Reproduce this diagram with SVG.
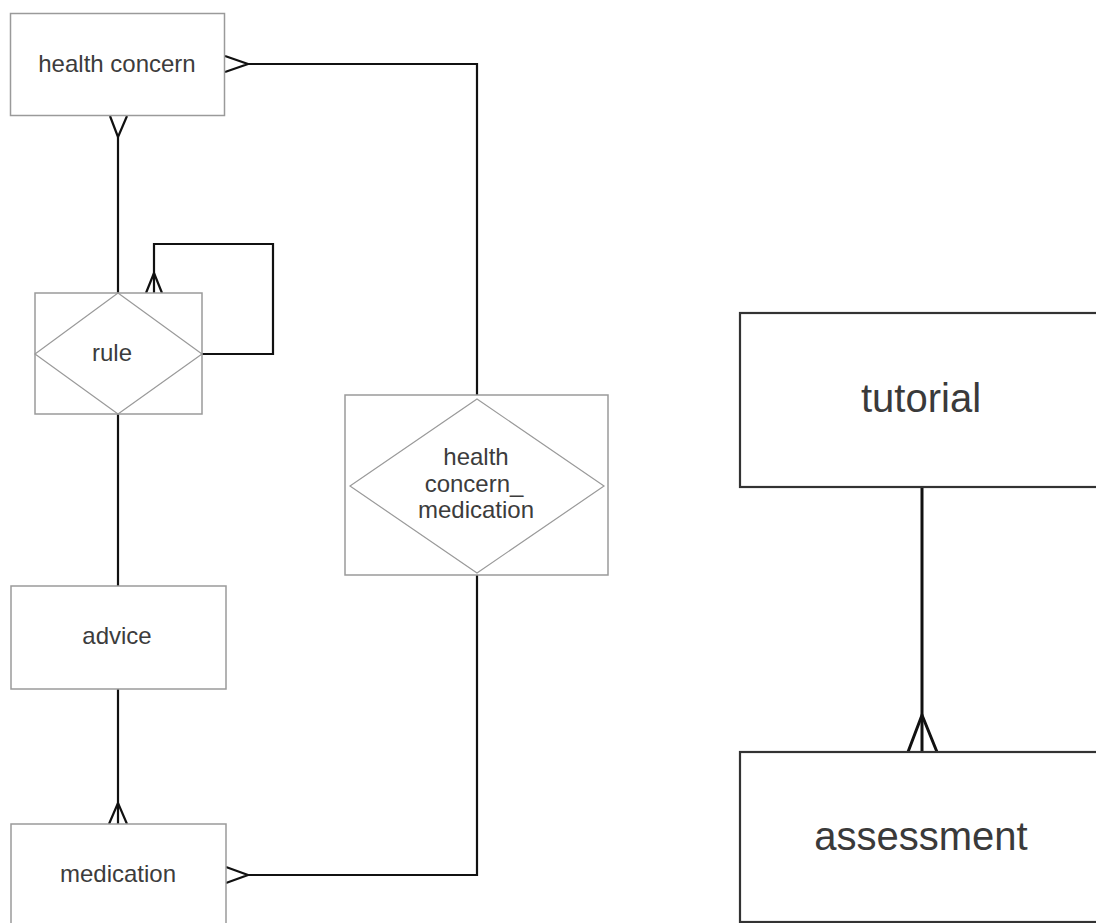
<svg xmlns="http://www.w3.org/2000/svg" width="1096" height="923" viewBox="0 0 1096 923">
<style>
.box{fill:#fff;stroke:#9a9a9a;stroke-width:1.5}
.dia{fill:none;stroke:#9a9a9a;stroke-width:1.2}
.bigbox{fill:#fff;stroke:#333;stroke-width:2.2}
.con{fill:none;stroke:#111;stroke-width:2.2;stroke-linejoin:miter}
.con2{fill:none;stroke:#111;stroke-width:3}
.t{font-family:"Liberation Sans",Arial,sans-serif;font-size:24px;fill:#3c3c3c;text-anchor:middle}
.tb{font-family:"Liberation Sans",Arial,sans-serif;font-size:40px;fill:#3a3a3a;text-anchor:middle}
</style>
<rect width="1096" height="923" fill="#fff"/>
<g id="connectors">
<path class="con" d="M248,64 H477 V395"/>
<path class="con" d="M225,56 L248,64 L225,72"/>
<path class="con" d="M118,137 V293"/>
<path class="con" d="M110,116 L118,137 L127,116"/>
<path class="con" d="M202,354 H273 V244 H154 V293"/>
<path class="con" d="M146,293 L154,273 L162,293"/>
<path class="con" d="M118,414 V586"/>
<path class="con" d="M118,689 V824"/>
<path class="con" d="M109,824 L118,803 L127,824"/>
<path class="con" d="M248,875 H477 V575"/>
<path class="con" d="M226,867 L248,875 L226,883"/>
<path class="con2" d="M922,487 V752"/>
<path class="con2" d="M908,752 L922,715 L937,752"/>
</g>
<g id="health_concern">
<rect class="box" x="10.5" y="13.5" width="214" height="102"/>
<text class="t" x="117" y="72">health concern</text>
</g>
<g id="rule">
<rect class="box" x="35" y="293" width="167" height="121"/>
<polygon class="dia" points="118,293 202,354 118,414 35,354"/>
<text class="t" x="112" y="361">rule</text>
</g>
<g id="health_concern_medication">
<rect class="box" x="345" y="395" width="263" height="180"/>
<polygon class="dia" points="477,399 604,486 477,573 350,486"/>
<text class="t" x="476" y="465">health</text>
<text class="t" x="474" y="492">concern_</text>
<text class="t" x="476" y="518">medication</text>
</g>
<g id="advice">
<rect class="box" x="11" y="586" width="215" height="103"/>
<text class="t" x="117" y="644">advice</text>
</g>
<g id="medication">
<rect class="box" x="11" y="824" width="215" height="110"/>
<text class="t" x="118" y="882">medication</text>
</g>
<g id="tutorial">
<rect class="bigbox" x="740" y="313" width="380" height="174"/>
<text class="tb" x="921" y="412">tutorial</text>
</g>
<g id="assessment">
<rect class="bigbox" x="740" y="752" width="380" height="170"/>
<text class="tb" x="921" y="850">assessment</text>
</g>
</svg>
